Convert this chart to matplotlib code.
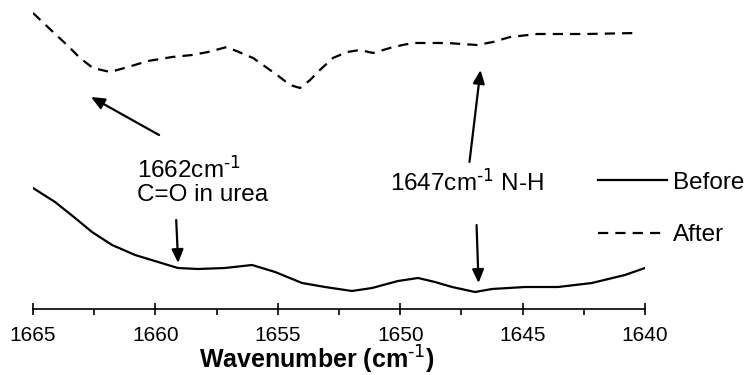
import matplotlib.pyplot as plt
from matplotlib.ticker import MultipleLocator

plt.rcParams['font.family'] = ['Liberation Sans', 'DejaVu Sans']
plt.rcParams['mathtext.default'] = 'regular'

# wavenumber (cm-1) and absorbance in arbitrary units
wn_before = [1665.00, 1664.10, 1663.28, 1662.59, 1661.77, 1660.83, 1659.89, 1659.08, 1658.26,
             1657.16, 1656.05, 1655.11, 1654.01, 1653.07, 1651.97, 1651.15, 1650.09, 1649.27,
             1648.58, 1647.88, 1646.94, 1646.25, 1644.90, 1643.55, 1642.17, 1640.82, 1640.00]
before = [1.21, 1.07, 0.91, 0.77, 0.64, 0.54, 0.47, 0.41, 0.40,
          0.41, 0.44, 0.37, 0.26, 0.22, 0.18, 0.21, 0.28, 0.31,
          0.27, 0.22, 0.17, 0.20, 0.22, 0.22, 0.26, 0.34, 0.41]

wn_after = [1665.00, 1664.18, 1663.61, 1663.08, 1662.55, 1661.85, 1661.12, 1660.30, 1659.32,
            1658.50, 1657.85, 1657.08, 1656.01, 1655.03, 1654.50, 1654.09, 1653.68, 1653.28,
            1652.75, 1652.17, 1651.64, 1651.11, 1650.42, 1649.90, 1649.48, 1648.09, 1646.86,
            1646.21, 1645.51, 1644.41, 1642.37, 1640.33]
after = [2.96, 2.77, 2.64, 2.51, 2.41, 2.37, 2.42, 2.48, 2.52,
         2.54, 2.57, 2.62, 2.51, 2.34, 2.24, 2.21, 2.29, 2.39,
         2.51, 2.57, 2.59, 2.56, 2.61, 2.64, 2.66, 2.66, 2.64,
         2.67, 2.72, 2.75, 2.75, 2.76]

fs = 17.5
sup = r'$^{\text{-1}}$'

fig = plt.figure(figsize=(7.54, 3.75), dpi=100)
ax = fig.add_axes([33 / 754, 66 / 375, 612 / 754, 300 / 375])

ax.plot(wn_before, before, color='black', lw=1.6, label='Before')
ax.plot(wn_after, after, color='black', lw=1.6, dashes=(4.6, 3.2), label='After')

ax.set_xlim(1665, 1640)
ax.set_ylim(0, 3.0)
ax.xaxis.set_major_locator(MultipleLocator(5))
ax.xaxis.set_minor_locator(MultipleLocator(2.5))
ax.tick_params(axis='x', which='major', direction='inout', length=8.6, width=1.2,
               labelsize=15, pad=8)
ax.tick_params(axis='x', which='minor', direction='out', length=4.3, width=1.2)
ax.set_yticks([])
for s in ['left', 'right', 'top']:
    ax.spines[s].set_visible(False)
ax.spines['bottom'].set_linewidth(1.2)
ax.set_xlabel('Wavenumber (cm' + sup + ')', fontsize=18, fontweight='bold')
ax.xaxis.set_label_coords((317 - 33) / 612, -0.115)

arrow = dict(arrowstyle='-|>,head_length=0.8,head_width=0.35', color='black', lw=1.6,
             shrinkA=0, shrinkB=0)
ax.annotate('', xy=(1662.63, 2.12), xytext=(1659.85, 1.74), arrowprops=arrow)
ax.annotate('', xy=(1659.07, 0.46), xytext=(1659.15, 0.89), arrowprops=arrow)
ax.annotate('', xy=(1646.72, 2.39), xytext=(1647.17, 1.47), arrowprops=arrow)
ax.annotate('', xy=(1646.80, 0.26), xytext=(1646.88, 0.84), arrowprops=arrow)

ax.text(1660.75, 1.31, '1662cm' + sup, fontsize=fs, ha='left', va='baseline')
ax.text(1660.75, 1.08, 'C=O in urea', fontsize=fs, ha='left', va='baseline')
ax.text(1650.4, 1.18, '1647cm' + sup + ' N-H', fontsize=fs, ha='left', va='baseline')

ax.legend(loc='center left', bbox_to_anchor=(598 / 754, 166 / 375),
          bbox_transform=fig.transFigure, frameon=False, fontsize=fs,
          handlelength=2.85, handletextpad=0.25, labelspacing=1.25,
          borderpad=0, borderaxespad=0)

fig.savefig('out.png', dpi=100)
